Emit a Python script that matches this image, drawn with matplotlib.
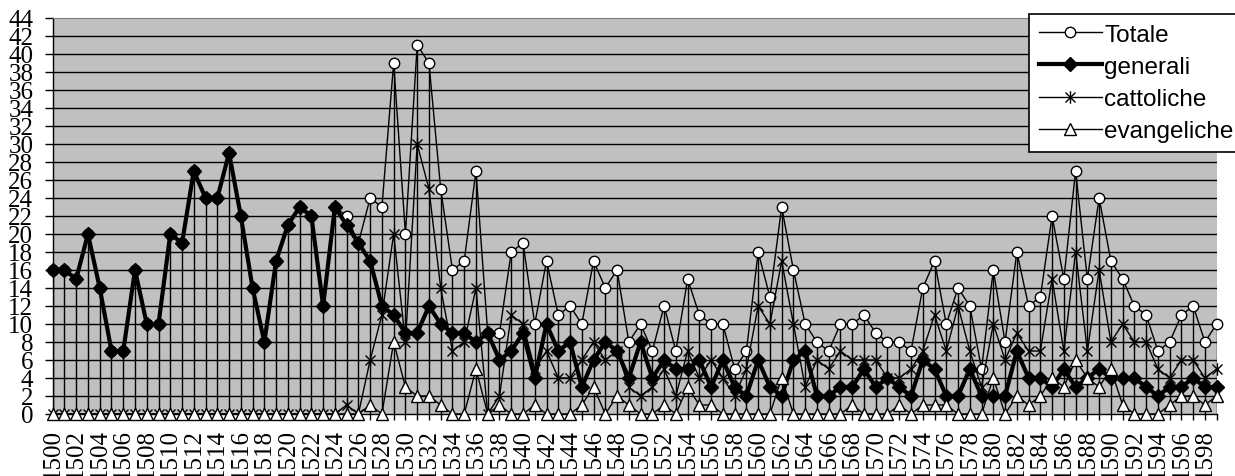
import numpy as np
import matplotlib
matplotlib.use("Agg")
import matplotlib.pyplot as plt
from matplotlib.path import Path

# --- dati (1500-1599) ---
anni = list(range(1500, 1600))

totale = [16, 16, 15, 20, 14, 7, 7, 16, 10, 10,
          20, 19, 27, 24, 24, 29, 22, 14, 8, 17,
          21, 23, 22, 12, 23, 22, 19, 24, 23, 39,
          20, 41, 39, 25, 16, 17, 27, 9, 9, 18,
          19, 10, 17, 11, 12, 10, 17, 14, 16, 8,
          10, 7, 12, 7, 15, 11, 10, 10, 5, 7,
          18, 13, 23, 16, 10, 8, 7, 10, 10, 11,
          9, 8, 8, 7, 14, 17, 10, 14, 12, 5,
          16, 8, 18, 12, 13, 22, 15, 27, 15, 24,
          17, 15, 12, 11, 7, 8, 11, 12, 8, 10]

generali = [16, 16, 15, 20, 14, 7, 7, 16, 10, 10,
            20, 19, 27, 24, 24, 29, 22, 14, 8, 17,
            21, 23, 22, 12, 23, 21, 19, 17, 12, 11,
            9, 9, 12, 10, 9, 9, 8, 9, 6, 7,
            9, 4, 10, 7, 8, 3, 6, 8, 7, 4,
            8, 4, 6, 5, 5, 6, 3, 6, 3, 2,
            6, 3, 2, 6, 7, 2, 2, 3, 3, 5,
            3, 4, 3, 2, 6, 5, 2, 2, 5, 2,
            2, 2, 7, 4, 4, 3, 5, 3, 4, 5,
            4, 4, 4, 3, 2, 3, 3, 4, 3, 3]

cattoliche = [0, 0, 0, 0, 0, 0, 0, 0, 0, 0,
              0, 0, 0, 0, 0, 0, 0, 0, 0, 0,
              0, 0, 0, 0, 0, 1, 0, 6, 11, 20,
              8, 30, 25, 14, 7, 8, 14, 0, 2, 11,
              10, 5, 7, 4, 4, 6, 8, 6, 7, 3,
              2, 3, 5, 2, 7, 4, 6, 4, 2, 5,
              12, 10, 17, 10, 3, 6, 5, 7, 6, 6,
              6, 4, 4, 5, 7, 11, 7, 12, 7, 3,
              10, 6, 9, 7, 7, 15, 7, 18, 7, 16,
              8, 10, 8, 8, 5, 4, 6, 6, 4, 5]

evangeliche = [0, 0, 0, 0, 0, 0, 0, 0, 0, 0,
               0, 0, 0, 0, 0, 0, 0, 0, 0, 0,
               0, 0, 0, 0, 0, 0, 0, 1, 0, 8,
               3, 2, 2, 1, 0, 0, 5, 0, 1, 0,
               0, 1, 0, 0, 0, 1, 3, 0, 2, 1,
               0, 0, 1, 0, 3, 1, 1, 0, 0, 0,
               0, 0, 4, 0, 0, 0, 0, 0, 1, 0,
               0, 0, 1, 0, 1, 1, 1, 0, 0, 0,
               4, 0, 2, 1, 2, 4, 3, 6, 4, 3,
               5, 1, 0, 0, 0, 1, 2, 2, 1, 2]

etichette_x = [str(a) if a % 2 == 0 else "" for a in anni]
etichette_y = [str(v) for v in range(0, 46, 2)]

# asterisco stile Excel (X + barra verticale)
asterisco = Path([(0, -1), (0, 1), (-0.8, -0.8), (0.8, 0.8), (-0.8, 0.8), (0.8, -0.8)],
                 [Path.MOVETO, Path.LINETO, Path.MOVETO, Path.LINETO, Path.MOVETO, Path.LINETO])

W, H = 1235, 477
fig = plt.figure(figsize=(W / 100, H / 100), dpi=100)
ax = fig.add_axes([52.7 / W, 62 / H, 1164 / W, 396 / H])
ax.set_facecolor('#C0C0C0')

for v in range(2, 44, 2):
    ax.axhline(v, color='black', lw=1.0, zorder=1)

massimi = np.max([totale, generali, cattoliche, evangeliche], axis=0)
ax.vlines(anni, 0, massimi, colors='black', lw=1.0, zorder=2)

ax.plot(anni, totale, color='black', lw=1.0, marker='o', ms=7.5, mfc='white',
        mec='black', mew=1.0, label='Totale', zorder=3, clip_on=False)
ax.plot(anni, generali, color='black', lw=3.0, marker='D', ms=7.5, mfc='black',
        mec='black', label='generali', zorder=4, clip_on=False)
ax.plot(anni, cattoliche, color='black', lw=1.0, marker=asterisco, ms=9, mfc='none',
        mec='black', mew=1.0, label='cattoliche', zorder=5, clip_on=False)
ax.plot(anni, evangeliche, color='black', lw=1.0, marker='^', ms=9, mfc='white',
        mec='black', mew=1.0, label='evangeliche', zorder=6, clip_on=False)

ax.set_xlim(1500, 1599)
ax.set_ylim(0, 44)
ax.set_xticks(anni)
ax.set_xticklabels(etichette_x, rotation=90, family='Liberation Serif', fontsize=18)
ax.set_yticks(range(0, 46, 2))
ax.set_yticklabels(etichette_y, family='Liberation Serif', fontsize=18)
ax.tick_params(axis='x', direction='out', length=4, width=1, pad=6)
ax.tick_params(axis='y', direction='out', length=6, width=1, pad=8)

ax.spines['right'].set_visible(False)
ax.spines['top'].set_color('#808080')
ax.spines['left'].set_color('black')
ax.spines['bottom'].set_color('black')
ax.spines['left'].set_linewidth(1.0)
ax.spines['bottom'].set_linewidth(1.0)

leg = fig.legend(loc='upper left', bbox_to_anchor=(1029 / W, 1 - 15 / H),
                 borderaxespad=0, frameon=True, fancybox=False, edgecolor='black',
                 framealpha=1, prop={'family': 'Liberation Sans', 'size': 17.5},
                 handlelength=2.6, handletextpad=0.1, labelspacing=0.42,
                 borderpad=0.4)
leg.get_frame().set_linewidth(1.2)

fig.savefig('out.png', dpi=100)
